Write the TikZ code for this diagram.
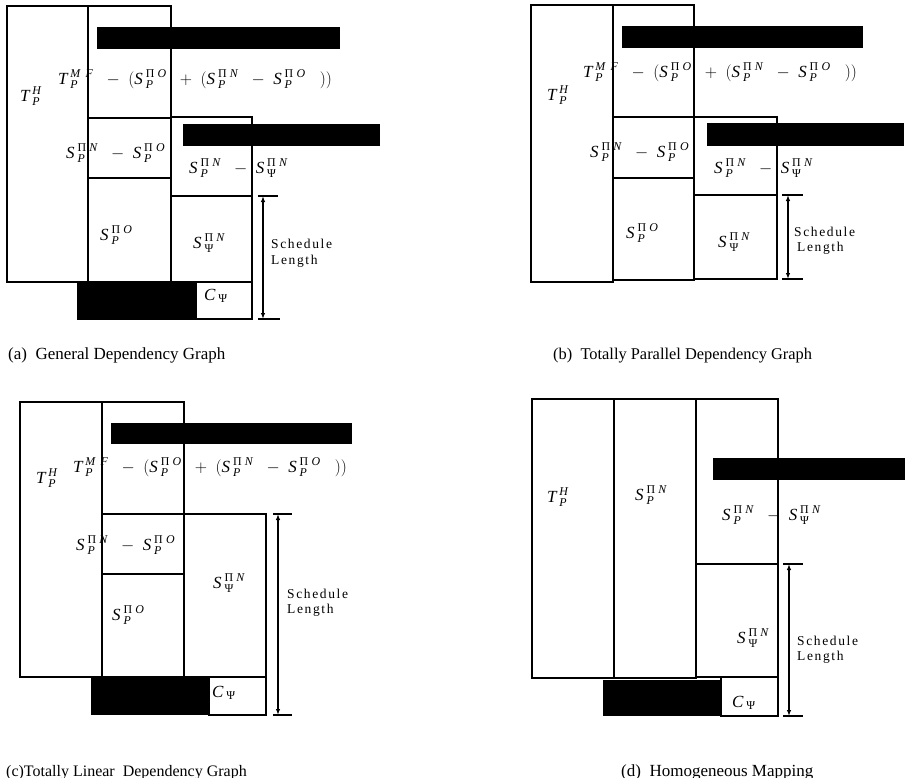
\documentclass[tikz,border=0pt]{standalone}
\usepackage{fix-cm}
\usepackage{amsmath}
\usepackage{fontspec}
\setmainfont{Liberation Serif}
\newfontfamily\spacedfont[LetterSpace=12]{Liberation Serif}
\usetikzlibrary{arrows.meta}

% italic letter and upright Greek letter set in the text font
\newcommand\vi[1]{\text{\itshape #1}}
\newcommand\gr[1]{\text{#1}}
% S with sub #1 and super Pi #2
\newcommand\Sx[2]{\vi{S}\,{}^{\gr{Π}\;\vi{#2}}_{#1}}
\newcommand\THP{\vi{T}\,{}^{\vi{H}}_{\vi{P}}}
\newcommand\CPsi{\vi{C}\,{}_{\gr{Ψ}}}
\newcommand\MFexpr{\vi{T}\,{}^{\vi{M}\;\,\vi{F}}_{\vi{P}}\;\;-\;(\Sx{\vi{P}}{O}\;\;+\;(\Sx{\vi{P}}{N}\;\;-\;\Sx{\vi{P}}{O}\;\;\;))}
\newcommand\NminusO{\Sx{\vi{P}}{N}\;\;-\;\Sx{\vi{P}}{O}}
\newcommand\NminusN{\Sx{\vi{P}}{N}\;\;-\;\Sx{\gr{Ψ}}{N}}

\tikzset{
  box/.style={draw=black,line width=1.8pt},
  redact/.style={fill=black,draw=none},
  lbl/.style={inner sep=0pt,anchor=base west,font=\fontsize{17}{20}\selectfont},
  captxt/.style={inner sep=0pt,anchor=base west,font=\fontsize{17}{20}\selectfont},
  sch/.style={inner sep=0pt,anchor=base west,font=\spacedfont\fontsize{13.5}{16}\selectfont},
  dim/.style={line width=1.4pt,{Latex[length=6pt,width=4.5pt]}-{Latex[length=6pt,width=4.5pt]}},
  tick/.style={line width=1.7pt}
}

\begin{document}
\begin{tikzpicture}[x=1pt,y=-1pt]
\useasboundingbox (0,0) rectangle (905,777);
\fill[white] (0,0) rectangle (905,777);

% ---------- (a) general dependency graph ----------
\draw[box] (7,6) rectangle (88,282);
\draw[box] (88,6) rectangle (171,282);
\draw[box] (88,118) -- (171,118);
\draw[box] (88,178) -- (171,178);
\draw[box] (171,117) rectangle (252,282);
\draw[box] (171,196) -- (252,196);
\draw[box] (196,282) rectangle (252,319);
\fill[redact] (97,27) rectangle (340,49);
\fill[redact] (183,124) rectangle (380,146);
\fill[redact] (77,283) rectangle (196,320);
\coordinate (a-top) at (263,196);
\coordinate (a-bot) at (263,319);
\draw[tick] (258,196) -- (278,196);
\draw[tick] (258,319) -- (280,319);
\draw[dim] (a-top) -- (a-bot);
\node[lbl] (a-th) at (20,101) {$\THP$};
\node[lbl] (a-mf) at (58,84) {$\MFexpr$};
\node[lbl] (a-d1) at (66,158) {$\NminusO$};
\node[lbl] (a-so) at (100,240) {$\Sx{\vi{P}}{O}$};
\node[lbl] (a-d2) at (189,173) {$\NminusN$};
\node[lbl] (a-sn) at (193,248) {$\Sx{\gr{Ψ}}{N}$};
\node[lbl] (a-c) at (204,300) {$\CPsi$};
\node[sch] (a-s1) at (271,248) {Schedule};
\node[sch] (a-s2) at (271,264) {Length};
\node[captxt] (a-cap) at (8,359) {(a)\ \ General Dependency Graph};

% ---------- (b) totally parallel dependency graph ----------
\draw[box] (531,5) rectangle (613,282);
\draw[box] (613,5) rectangle (694,280);
\draw[box] (613,117) -- (694,117);
\draw[box] (613,178) -- (694,178);
\draw[box] (694,117) rectangle (777,279);
\draw[box] (694,195) -- (777,195);
\fill[redact] (622,26) rectangle (863,48);
\fill[redact] (707,123) rectangle (904,146);
\coordinate (b-top) at (788,195);
\coordinate (b-bot) at (788,279);
\draw[tick] (782,195) -- (803,195);
\draw[tick] (782,279) -- (803,279);
\draw[dim] (b-top) -- (b-bot);
\node[lbl] (b-th) at (547,100) {$\THP$};
\node[lbl] (b-mf) at (583,77) {$\MFexpr$};
\node[lbl] (b-d1) at (590,157) {$\NminusO$};
\node[lbl] (b-so) at (626,238) {$\Sx{\vi{P}}{O}$};
\node[lbl] (b-d2) at (714,173) {$\NminusN$};
\node[lbl] (b-sn) at (718,247) {$\Sx{\gr{Ψ}}{N}$};
\node[sch] (b-s1) at (794,236) {Schedule};
\node[sch] (b-s2) at (797,251) {Length};
\node[captxt,font=\fontsize{16.4}{20}\selectfont] (b-cap) at (553,359) {(b)\ \ Totally Parallel Dependency Graph};

% ---------- (c) totally linear dependency graph ----------
\draw[box] (20,402) rectangle (102,677);
\draw[box] (102,402) rectangle (184,677);
\draw[box] (102,514) -- (184,514);
\draw[box] (102,574) -- (184,574);
\draw[box] (184,514) rectangle (266,677);
\draw[box] (209,677) rectangle (266,715);
\fill[redact] (111,423) rectangle (352,444);
\fill[redact] (91,678) rectangle (209,715);
\coordinate (c-top) at (278,514);
\coordinate (c-bot) at (278,715);
\draw[tick] (273,514) -- (292,514);
\draw[tick] (273,715) -- (292,715);
\draw[dim] (c-top) -- (c-bot);
\node[lbl] (c-th) at (36,483) {$\THP$};
\node[lbl] (c-mf) at (73,472) {$\MFexpr$};
\node[lbl] (c-d1) at (76,550) {$\NminusO$};
\node[lbl] (c-so) at (112,620) {$\Sx{\vi{P}}{O}$};
\node[lbl] (c-sn) at (213,588) {$\Sx{\gr{Ψ}}{N}$};
\node[lbl] (c-c) at (212,697) {$\CPsi$};
\node[sch] (c-s1) at (287,598) {Schedule};
\node[sch] (c-s2) at (287,613) {Length};
\node[captxt,font=\fontsize{16}{20}\selectfont] (c-cap) at (6,776) {(c)Totally Linear\ \ Dependency Graph};

% ---------- (d) homogeneous mapping ----------
\draw[box] (532,399) rectangle (614,678);
\draw[box] (614,399) rectangle (696,678);
\draw[box] (696,399) rectangle (778,677);
\draw[box] (696,564) -- (778,564);
\draw[box] (721,677) rectangle (778,716);
\fill[redact] (713,458) rectangle (905,480);
\fill[redact] (603,680) rectangle (721,716);
\coordinate (d-top) at (789,564);
\coordinate (d-bot) at (789,716);
\draw[tick] (783,564) -- (803,564);
\draw[tick] (783,716) -- (803,716);
\draw[dim] (d-top) -- (d-bot);
\node[lbl] (d-th) at (547,502) {$\THP$};
\node[lbl] (d-sp) at (635,500) {$\Sx{\vi{P}}{N}$};
\node[lbl] (d-d2) at (722,520) {$\NminusN$};
\node[lbl] (d-sn) at (737,643) {$\Sx{\gr{Ψ}}{N}$};
\node[lbl] (d-c) at (732,707) {$\CPsi$};
\node[sch] (d-s1) at (797,645) {Schedule};
\node[sch] (d-s2) at (797,660) {Length};
\node[captxt] (d-cap) at (621,776) {(d)\ \ Homogeneous Mapping};
\end{tikzpicture}
\end{document}
